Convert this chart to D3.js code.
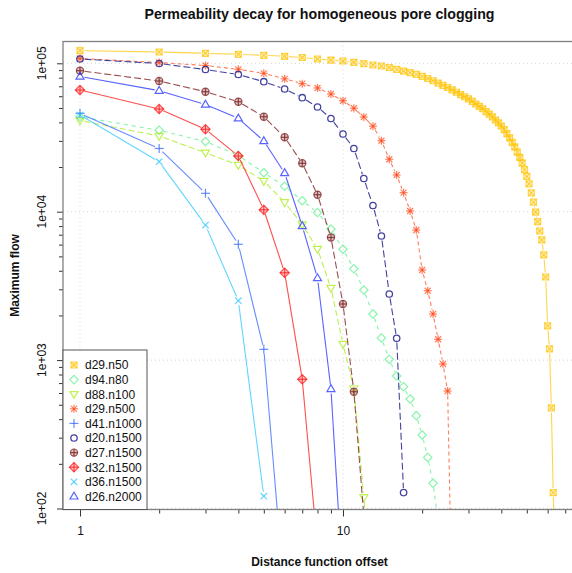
<!DOCTYPE html>
<html>
<head>
<meta charset="utf-8">
<script src="https://cdn.jsdelivr.net/npm/d3@7"></script>
<style>
  body { margin: 0; background: #fff; }
  svg { display: block; font-family: "Liberation Sans", Arial, sans-serif; }
</style>
</head>
<body>
<div id="container"></div>
<script>
let w = 572;
let h = 573;

// DATA (maximum flow per integer distance offset, starting at 1)
let seriesNames = ["d29.n50", "d94.n80", "d88.n100", "d29.n500", "d41.n1000",
                   "d20.n1500", "d27.n1500", "d32.n1500", "d36.n1500", "d26.n2000"];

let flowD29n50 = [121600, 119200, 116800, 115000, 113200, 111500, 109400, 106900, 105200, 103600,
  101600, 99400, 97400, 95900, 93700, 91100, 88700, 86500, 84300, 81700,
  79000, 76300, 73600, 71100, 68700, 66300, 63800, 61600, 59500, 57500,
  55400, 53200, 51300, 49400, 47300, 45500, 43500, 41500, 39700, 37800,
  35700, 33600, 31400, 29300, 27300, 25200, 23200, 21300, 19200, 17300,
  15400, 13400, 11600, 9950, 8560, 7410, 6450, 5110, 3630, 1700,
  1190, 476, 128, 47];
let flowD94n80 = [43650, 35370, 29720, 23910, 18320, 14830, 11860, 9876, 7644, 5588,
  4122, 2967, 2045, 1409, 1012, 781, 662, 547, 422, 313, 221, 148, 82];
let flowD88n100 = [41170, 32370, 24970, 20630, 16100, 11570, 8200, 5605, 3060, 1283, 645, 119, 20];
let flowD29n500 = [107700, 101200, 96600, 91100, 85600, 78600, 72900, 68200, 62100, 55960,
  49800, 43450, 37680, 30090, 22580, 17670, 13430, 10110, 7525, 4046,
  2935, 2045, 1381, 941, 619, 20];
let flowD41n1000 = [46030, 26660, 13300, 6030, 1182, 25];
let flowD20n1500 = [106900, 99700, 90800, 84060, 75160, 67130, 58630, 50760, 42460, 33380,
  26660, 16740, 11010, 6858, 2788, 1403, 128];
let flowD27n1500 = [89160, 75970, 64360, 55100, 43650, 31720, 21190, 13020, 6700, 2388, 612, 90];
let flowD32n1500 = [66070, 49200, 35920, 23730, 10310, 3880, 742, 54];
let flowD36n1500 = [44830, 21720, 8135, 2513, 121];
let flowD26n2000 = [81470, 65360, 52770, 42590, 29950, 18230, 8010, 3574, 639, 30];

let seriesFlows = [flowD29n50, flowD94n80, flowD88n100, flowD29n500, flowD41n1000,
                   flowD20n1500, flowD27n1500, flowD32n1500, flowD36n1500, flowD26n2000];

let xMinorTicks = [2, 3, 4, 5, 6, 7, 8, 9, 20, 30, 40, 50, 60, 70];
let xMajorTicks = [1, 10];
let yMajorTicks = [100, 1000, 10000, 100000];
let yTickLabels = ["1e+02", "1e+03", "1e+04", "1e+05"];

// STYLES
let seriesColors = ["#FFC400", "#4CEE80", "#A8EC1A", "#FF4A1A", "#3366FF",
                    "#23238F", "#7F2424", "#FF1414", "#2FC8FF", "#1F30FF"];
let seriesOpacity = [0.7, 0.65, 0.75, 0.7, 0.75, 0.85, 0.8, 0.75, 0.75, 0.75];
let seriesShapes = ["sqx", "diamond", "tridown", "asterisk", "plus",
                    "circle", "circplus", "diamplus", "cross", "triup"];
let seriesDashes = [null, "4,4", "6,3", "4,3", null, "7,3", "7,3", null, null, null];

let plotLeft = 63, plotRight = 576, plotTop = 41.5, plotBottom = 509.5;

let viz = d3.select("#container").append("svg")
    .attr("width", w)
    .attr("height", h)
    .style("background-color", "white");

// SCALES
let xScale = d3.scaleLog().domain([Math.pow(10, -0.0646), Math.pow(10, 1.886)]).range([plotLeft, plotRight]);
let yScale = d3.scaleLog().domain([Math.pow(10, 1.9933), Math.pow(10, 5.1469)]).range([plotBottom, plotTop]);

viz.append("clipPath").attr("id", "plotclip")
  .append("rect")
    .attr("x", plotLeft).attr("y", plotTop)
    .attr("width", plotRight - plotLeft).attr("height", plotBottom - plotTop);

// GRID
let grid = viz.append("g");
grid.selectAll(".vgrid").data(xMajorTicks).enter()
  .append("line")
    .attr("x1", d => xScale(d)).attr("x2", d => xScale(d))
    .attr("y1", plotTop).attr("y2", plotBottom)
    .attr("stroke", "#d4d4d4").attr("stroke-dasharray", "1,3");
grid.selectAll(".hgrid").data(yMajorTicks).enter()
  .append("line")
    .attr("x1", plotLeft).attr("x2", plotRight)
    .attr("y1", d => yScale(d)).attr("y2", d => yScale(d))
    .attr("stroke", "#d4d4d4").attr("stroke-dasharray", "1,3");

// MARKERS
function drawMarker(g, shape, color, op) {
  let sw = 1.2;
  function ln(x1, y1, x2, y2) {
    g.append("line").attr("x1", x1).attr("y1", y1).attr("x2", x2).attr("y2", y2)
      .attr("stroke", color).attr("stroke-width", sw).attr("opacity", op);
  }
  function pth(d) {
    g.append("path").attr("d", d).attr("fill", "none")
      .attr("stroke", color).attr("stroke-width", sw).attr("opacity", op);
  }
  if (shape == "sqx") {
    g.append("path").attr("d", "M-3,-3H3V3H-3Z").attr("fill", color).attr("fill-opacity", 0.25)
      .attr("stroke", color).attr("stroke-width", sw).attr("opacity", op);
    ln(-3, -3, 3, 3); ln(-3, 3, 3, -3);
  } else if (shape == "diamond") {
    pth("M0,-4.2L4.2,0L0,4.2L-4.2,0Z");
  } else if (shape == "tridown") {
    pth("M-4,-2.6L4,-2.6L0,4.2Z");
  } else if (shape == "triup") {
    pth("M-4,2.6L4,2.6L0,-4.2Z");
  } else if (shape == "asterisk") {
    ln(-4, 0, 4, 0); ln(0, -4, 0, 4); ln(-3, -3, 3, 3); ln(-3, 3, 3, -3);
  } else if (shape == "plus") {
    ln(-4.5, 0, 4.5, 0); ln(0, -4.5, 0, 4.5);
  } else if (shape == "cross") {
    ln(-3.2, -3.2, 3.2, 3.2); ln(-3.2, 3.2, 3.2, -3.2);
  } else if (shape == "circle") {
    g.append("circle").attr("r", 3.2).attr("fill", "none")
      .attr("stroke", color).attr("stroke-width", 1.3).attr("opacity", op);
  } else if (shape == "circplus") {
    g.append("circle").attr("r", 3.6).attr("fill", color).attr("fill-opacity", 0.35)
      .attr("stroke", color).attr("stroke-width", sw).attr("opacity", op);
    ln(-3.6, 0, 3.6, 0); ln(0, -3.6, 0, 3.6);
  } else if (shape == "diamplus") {
    g.append("path").attr("d", "M0,-4.6L4.6,0L0,4.6L-4.6,0Z").attr("fill", color).attr("fill-opacity", 0.3)
      .attr("stroke", color).attr("stroke-width", sw).attr("opacity", op);
    ln(-4.6, 0, 4.6, 0); ln(0, -4.6, 0, 4.6);
  }
}

// LINES (type "b": segments with a gap around each point)
let plot = viz.append("g").attr("clip-path", "url(#plotclip)");
let gap = 4.5;
let yMin = yScale.domain()[0];

seriesFlows.forEach(function(flows, s) {
  let pts = flows.map(function(v, i) {
    return { x: xScale(i + 1), y: yScale(v), inside: v >= yMin };
  });
  let g = plot.append("g");
  for (let i = 0; i < pts.length - 1; i++) {
    let a = pts[i], b = pts[i + 1];
    let dx = b.x - a.x, dy = b.y - a.y;
    let len = Math.sqrt(dx * dx + dy * dy);
    let ga = a.inside ? gap : 0, gb = b.inside ? gap : 0;
    if (len <= ga + gb) continue;
    let ux = dx / len, uy = dy / len;
    g.append("line")
      .attr("x1", a.x + ux * ga).attr("y1", a.y + uy * ga)
      .attr("x2", b.x - ux * gb).attr("y2", b.y - uy * gb)
      .attr("stroke", seriesColors[s])
      .attr("stroke-width", 1.1)
      .attr("opacity", seriesOpacity[s])
      .attr("stroke-dasharray", seriesDashes[s]);
  }
  pts.forEach(function(p) {
    if (!p.inside) return;
    let m = g.append("g").attr("transform", "translate(" + p.x + "," + p.y + ")");
    drawMarker(m, seriesShapes[s], seriesColors[s], seriesOpacity[s]);
  });
});

// AXES
let xAxisG = viz.append("g").attr("transform", "translate(0," + plotBottom + ")");
xAxisG.call(d3.axisBottom(xScale).tickValues(xMinorTicks).tickSize(4).tickFormat(""));
xAxisG.append("g").call(d3.axisBottom(xScale).tickValues(xMajorTicks).tickSize(7).tickPadding(10)
  .tickFormat(d3.format("d")));
xAxisG.selectAll(".domain").remove();
xAxisG.selectAll("line").attr("stroke", "#333");
xAxisG.selectAll("text").attr("font-size", 12).attr("fill", "#111")
  .attr("font-family", "'Liberation Sans', Arial, sans-serif");

let yMinor = [];
[100, 1000, 10000, 100000].forEach(function(dec) {
  for (let m = 2; m <= 9; m++) {
    if (dec * m <= yScale.domain()[1]) yMinor.push(dec * m);
  }
});
let yAxisG = viz.append("g").attr("transform", "translate(" + plotLeft + ",0)");
yAxisG.call(d3.axisLeft(yScale).tickValues(yMinor).tickSize(4).tickFormat(""));
yAxisG.append("g").call(d3.axisLeft(yScale).tickValues(yMajorTicks).tickSize(6).tickFormat(""));
yAxisG.selectAll(".domain").remove();
yAxisG.selectAll("line").attr("stroke", "#333");

viz.selectAll(".ylab").data(yMajorTicks).enter()
  .append("text")
    .attr("transform", (d, i) => "translate(46," + yScale(d) + ") rotate(-90)")
    .attr("text-anchor", "middle")
    .attr("font-size", 12)
    .attr("fill", "#111")
    .text((d, i) => yTickLabels[i]);

// BOX
viz.append("rect")
  .attr("x", plotLeft).attr("y", plotTop)
  .attr("width", plotRight - plotLeft).attr("height", plotBottom - plotTop)
  .attr("fill", "none").attr("stroke", "#808080").attr("stroke-width", 1.3);

// TITLES
viz.append("text")
  .attr("x", (plotLeft + plotRight) / 2).attr("y", 19)
  .attr("text-anchor", "middle")
  .attr("font-size", 14.2).attr("font-weight", "bold").attr("fill", "#111")
  .text("Permeability decay for homogeneous pore clogging");
viz.append("text")
  .attr("x", (plotLeft + plotRight) / 2).attr("y", 566)
  .attr("text-anchor", "middle")
  .attr("font-size", 12).attr("font-weight", "bold").attr("fill", "#111")
  .text("Distance function offset");
viz.append("text")
  .attr("transform", "translate(19," + (plotTop + plotBottom) / 2 + ") rotate(-90)")
  .attr("text-anchor", "middle")
  .attr("font-size", 12).attr("font-weight", "bold").attr("fill", "#111")
  .text("Maximum flow");

// LEGEND
let legend = viz.append("g");
legend.append("rect")
  .attr("x", plotLeft).attr("y", 350)
  .attr("width", 84).attr("height", plotBottom - 350)
  .attr("fill", "white").attr("stroke", "#555").attr("stroke-width", 1);
seriesNames.forEach(function(name, s) {
  let yy = 365 + s * 14.6;
  let m = legend.append("g").attr("transform", "translate(74," + yy + ")");
  drawMarker(m, seriesShapes[s], seriesColors[s], seriesOpacity[s]);
  legend.append("text")
    .attr("x", 85).attr("y", yy + 4.3)
    .attr("font-size", 12).attr("fill", "#111")
    .text(name);
});
</script>
</body>
</html>
